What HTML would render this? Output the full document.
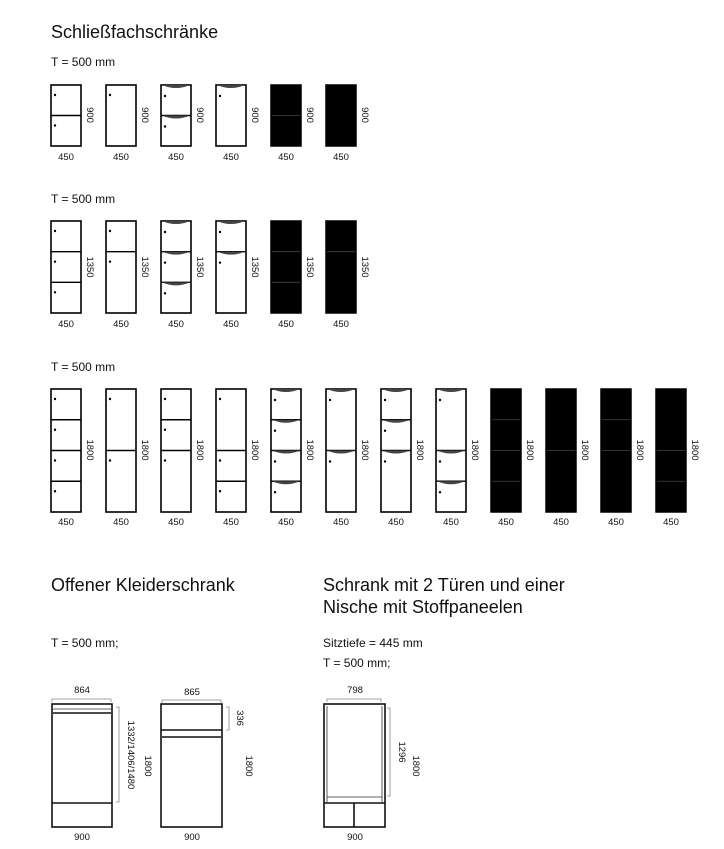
<!DOCTYPE html>
<html><head><meta charset="utf-8">
<style>
html,body{margin:0;padding:0;background:#fff;}
body{width:724px;height:849px;overflow:hidden;position:relative;font-family:"Liberation Sans",sans-serif;color:#111;}
.t{position:absolute;white-space:nowrap;}
.h{font-size:18px;}
.s{font-size:12px;}
svg{position:absolute;left:0;top:0;}
svg text{font-family:"Liberation Sans",sans-serif;font-size:9.5px;fill:#111;}
</style></head><body>
<div class="t h" style="left:51px;top:22px">Schließfachschränke</div>
<div class="t s" style="left:51px;top:55px">T = 500 mm</div>
<div class="t s" style="left:51px;top:192px">T = 500 mm</div>
<div class="t s" style="left:51px;top:360px">T = 500 mm</div>
<div class="t h" style="left:51px;top:575px">Offener Kleiderschrank</div>
<div class="t h" style="left:323px;top:575px">Schrank mit 2 Türen und einer</div>
<div class="t h" style="left:323px;top:597px">Nische mit Stoffpaneelen</div>
<div class="t s" style="left:51px;top:636px">T = 500 mm;</div>
<div class="t s" style="left:323px;top:636px">Sitztiefe = 445 mm</div>
<div class="t s" style="left:323px;top:656px">T = 500 mm;</div>

<svg id="g" width="724" height="849" viewBox="0 0 724 849">
<g text-anchor="middle">
<text x="66" y="160">450</text><text x="121" y="160">450</text><text x="176" y="160">450</text><text x="231" y="160">450</text><text x="286" y="160">450</text><text x="341" y="160">450</text>
<text transform="translate(87,115) rotate(90)">900</text><text transform="translate(142,115) rotate(90)">900</text><text transform="translate(197,115) rotate(90)">900</text><text transform="translate(252,115) rotate(90)">900</text><text transform="translate(307,115) rotate(90)">900</text><text transform="translate(362,115) rotate(90)">900</text>
<text x="66" y="327">450</text><text x="121" y="327">450</text><text x="176" y="327">450</text><text x="231" y="327">450</text><text x="286" y="327">450</text><text x="341" y="327">450</text>
<text transform="translate(87,267) rotate(90)">1350</text><text transform="translate(142,267) rotate(90)">1350</text><text transform="translate(197,267) rotate(90)">1350</text><text transform="translate(252,267) rotate(90)">1350</text><text transform="translate(307,267) rotate(90)">1350</text><text transform="translate(362,267) rotate(90)">1350</text>
<text x="66" y="525">450</text><text x="121" y="525">450</text><text x="176" y="525">450</text><text x="231" y="525">450</text><text x="286" y="525">450</text><text x="341" y="525">450</text><text x="396" y="525">450</text><text x="451" y="525">450</text><text x="506" y="525">450</text><text x="561" y="525">450</text><text x="616" y="525">450</text><text x="671" y="525">450</text>
<text transform="translate(87,450) rotate(90)">1800</text><text transform="translate(142,450) rotate(90)">1800</text><text transform="translate(197,450) rotate(90)">1800</text><text transform="translate(252,450) rotate(90)">1800</text><text transform="translate(307,450) rotate(90)">1800</text><text transform="translate(362,450) rotate(90)">1800</text><text transform="translate(417,450) rotate(90)">1800</text><text transform="translate(472,450) rotate(90)">1800</text><text transform="translate(527,450) rotate(90)">1800</text><text transform="translate(582,450) rotate(90)">1800</text><text transform="translate(637,450) rotate(90)">1800</text><text transform="translate(692,450) rotate(90)">1800</text>
<text x="82" y="693">864</text><text x="192" y="695">865</text><text x="355" y="693">798</text>
<text x="82" y="840">900</text><text x="192" y="840">900</text><text x="355" y="840">900</text>
<text transform="translate(128,755) rotate(90)">1332/1406/1480</text>
<text transform="translate(145,766) rotate(90)">1800</text>
<text transform="translate(237,718) rotate(90)">336</text>
<text transform="translate(246,766) rotate(90)">1800</text>
<text transform="translate(399,752) rotate(90)">1296</text>
<text transform="translate(413,766) rotate(90)">1800</text>
</g>
<g fill="none" stroke="#111" stroke-width="1.6">
<rect x="52" y="704" width="60" height="123"/>
<line x1="53" y1="713" x2="111" y2="713"/>
<line x1="52" y1="803" x2="112" y2="803"/>
<rect x="161" y="704" width="61" height="123"/>
<line x1="161" y1="730" x2="222" y2="730"/>
<line x1="162" y1="737" x2="221" y2="737"/>
<rect x="324" y="704" width="61" height="123"/>
<line x1="324" y1="803" x2="385" y2="803"/>
<line x1="354" y1="803" x2="354" y2="827"/>
</g>
<g fill="none" stroke="#333" stroke-width="0.8">
<line x1="327" y1="706" x2="327" y2="803"/>
<line x1="382" y1="706" x2="382" y2="803"/>
<line x1="327" y1="797" x2="382" y2="797"/>
<line x1="53" y1="709" x2="111" y2="709"/>
</g>
<g fill="none" stroke="#888" stroke-width="0.8">
<path d="M52 702 V699 H111 V702"/>
<path d="M162 703 V700 H221 V703"/>
<path d="M327 702 V699 H381 V702"/>
<path d="M116 707 H119 V802 H116"/>
<path d="M226 707 H229 V730 H226"/>
<path d="M387 708 H390 V796 H387"/>
</g>
<g id="cabs"></g>
</svg>
<script>
var NS="http://www.w3.org/2000/svg",G=document.getElementById("cabs");
function el(n,a){var e=document.createElementNS(NS,n);for(var k in a)e.setAttribute(k,a[k]);G.appendChild(e);return e;}
function cab(x,y,h,type,divs){
  var w=30;
  if(type=="b"){
    el("rect",{x:x,y:y,width:w,height:h,fill:"#000",stroke:"#000","stroke-width":1.5});
    divs.forEach(function(f){var yy=y+h*f;el("line",{x1:x+1,y1:yy,x2:x+w-1,y2:yy,stroke:"#444","stroke-width":0.8});});
    return;
  }
  el("rect",{x:x,y:y,width:w,height:h,fill:"#fff",stroke:"#000","stroke-width":1.6});
  var tops=[0].concat(divs);
  divs.forEach(function(f){var yy=y+h*f;el("line",{x1:x,y1:yy,x2:x+w,y2:yy,stroke:"#000","stroke-width":1.4});});
  tops.forEach(function(f){var yy=y+h*f;
    if(type=="c"){el("path",{d:"M"+(x+1)+" "+yy+" Q"+(x+15)+" "+(yy+6)+" "+(x+29)+" "+yy+" Z",fill:"#444"});}
    el("circle",{cx:x+4,cy:yy+(type=="c"?11:10),r:1.2,fill:"#000"});
  });
}
var X=[51,106,161,216,271,326,381,436,491,546,601,656];
var r1=[["d",[.5]],["d",[]],["c",[.5]],["c",[]],["b",[.5]],["b",[]]];
r1.forEach(function(c,i){cab(X[i],85,61,c[0],c[1]);});
var r2=[["d",[1/3,2/3]],["d",[1/3]],["c",[1/3,2/3]],["c",[1/3]],["b",[1/3,2/3]],["b",[1/3]]];
r2.forEach(function(c,i){cab(X[i],221,92,c[0],c[1]);});
var r3=[["d",[.25,.5,.75]],["d",[.5]],["d",[.25,.5]],["d",[.5,.75]],["c",[.25,.5,.75]],["c",[.5]],["c",[.25,.5]],["c",[.5,.75]],["b",[.25,.5,.75]],["b",[.5]],["b",[.25,.5]],["b",[.5,.75]]];
r3.forEach(function(c,i){cab(X[i],389,123,c[0],c[1]);});
</script>
</body></html>
